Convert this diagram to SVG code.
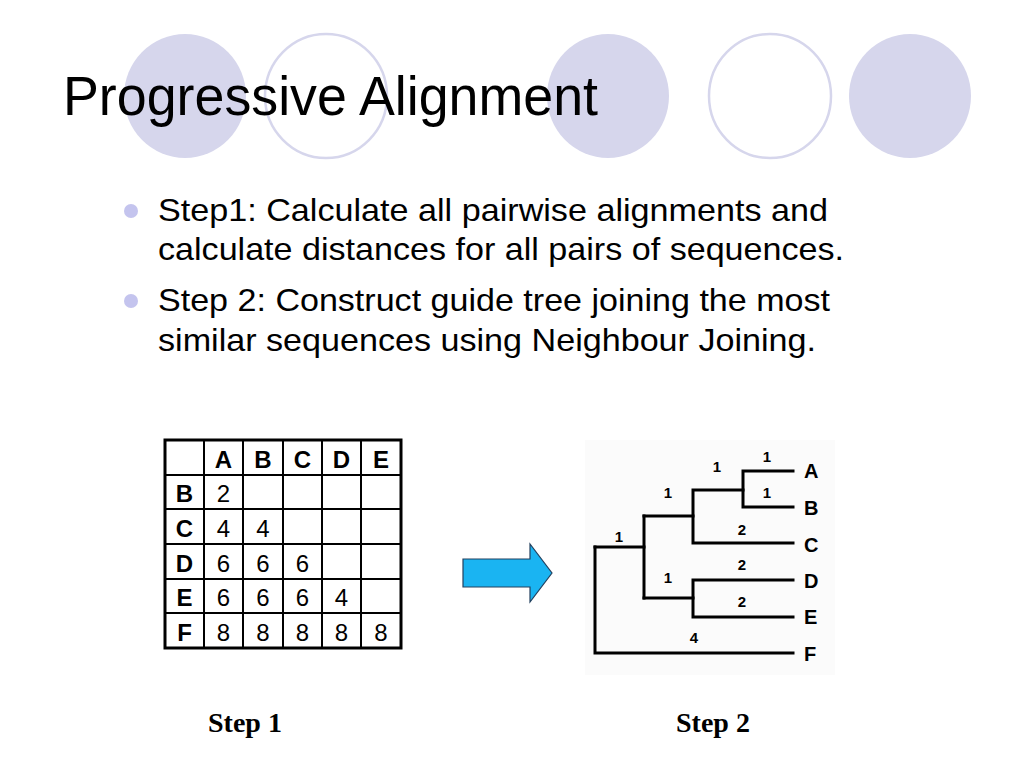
<svg xmlns="http://www.w3.org/2000/svg" width="1024" height="768" viewBox="0 0 1024 768">
<style>
.deco{fill:#d6d6ec}
.ring{fill:none;stroke:#d6d6ec;stroke-width:2.5}
.title{font-family:"Liberation Sans",Arial,sans-serif;font-size:55px;fill:#000}
.body{font-family:"Liberation Sans",Arial,sans-serif;font-size:32px;fill:#000}
.bullet{fill:#c4c4ee}
.th{font-family:"Liberation Sans",Arial,sans-serif;font-size:24px;font-weight:bold;text-anchor:middle}
.td{font-family:"Liberation Sans",Arial,sans-serif;font-size:24px;text-anchor:middle}
.grid{stroke:#000;stroke-width:2;fill:none}
.leaf{font-family:"Liberation Sans",Arial,sans-serif;font-size:20px;font-weight:bold}
.blen{font-family:"Liberation Sans",Arial,sans-serif;font-size:15px;font-weight:bold;text-anchor:middle}
.branch{stroke:#000;stroke-width:3;fill:none;stroke-linecap:square}
.step{font-family:"Liberation Serif","Times New Roman",serif;font-size:28px;font-weight:bold}
</style>
<rect width="1024" height="768" fill="#fff"/>
<g id="decor">
<ellipse class="deco" cx="185" cy="96" rx="61" ry="62"/>
<ellipse class="ring" cx="326" cy="96" rx="61" ry="62"/>
<ellipse class="deco" cx="608" cy="96" rx="61" ry="62"/>
<ellipse class="ring" cx="770" cy="96" rx="61" ry="62"/>
<ellipse class="deco" cx="910" cy="96" rx="61" ry="62"/>
</g>
<g id="title"><text class="title" x="63" y="115" textLength="535" lengthAdjust="spacingAndGlyphs">Progressive Alignment</text></g>
<g id="bullets">
<circle class="bullet" cx="131" cy="211" r="7"/>
<circle class="bullet" cx="131" cy="301" r="7"/>
<text class="body" x="158" y="221" textLength="670" lengthAdjust="spacingAndGlyphs">Step1: Calculate all pairwise alignments and</text>
<text class="body" x="158" y="260" textLength="686" lengthAdjust="spacingAndGlyphs">calculate distances for all pairs of sequences.</text>
<text class="body" x="158" y="311" textLength="672" lengthAdjust="spacingAndGlyphs">Step 2: Construct guide tree joining the most</text>
<text class="body" x="158" y="351" textLength="658" lengthAdjust="spacingAndGlyphs">similar sequences using Neighbour Joining.</text>
</g>
<g id="table">
<rect x="165" y="440" width="236" height="208" fill="#fff" stroke="#000" stroke-width="3"/>
<path class="grid" d="M204 440V648M243 440V648M283 440V648M322 440V648M361 440V648M165 475H401M165 509H401M165 544H401M165 579H401M165 613H401"/>
<text class="th" x="223.5" y="468">A</text>
<text class="th" x="263" y="468">B</text>
<text class="th" x="302.5" y="468">C</text>
<text class="th" x="341.5" y="468">D</text>
<text class="th" x="381" y="468">E</text>
<text class="th" x="184.5" y="502">B</text>
<text class="th" x="184.5" y="537">C</text>
<text class="th" x="184.5" y="572">D</text>
<text class="th" x="184.5" y="606">E</text>
<text class="th" x="184.5" y="641">F</text>
<text class="td" x="223.5" y="502">2</text>
<text class="td" x="223.5" y="537">4</text><text class="td" x="263" y="537">4</text>
<text class="td" x="223.5" y="572">6</text><text class="td" x="263" y="572">6</text><text class="td" x="302.5" y="572">6</text>
<text class="td" x="223.5" y="606">6</text><text class="td" x="263" y="606">6</text><text class="td" x="302.5" y="606">6</text><text class="td" x="341.5" y="606">4</text>
<text class="td" x="223.5" y="641">8</text><text class="td" x="263" y="641">8</text><text class="td" x="302.5" y="641">8</text><text class="td" x="341.5" y="641">8</text><text class="td" x="381" y="641">8</text>
</g>
<g id="arrow">
<path d="M463 559H530V544L552 573L530 602V587H463Z" fill="#1ab4f2" stroke="#23405e" stroke-width="1.2" stroke-linejoin="miter"/>
</g>
<g id="tree">
<rect x="585" y="440" width="250" height="235" fill="#fbfbfb"/>
<g id="connectors">
<path class="branch" d="M595 547V653H793"/>
<path class="branch" d="M595 547H644"/>
<path class="branch" d="M644 516V598"/>
<path class="branch" d="M644 516H693M644 598H693"/>
<path class="branch" d="M693 490V543H793M693 490H743"/>
<path class="branch" d="M743 471V507M743 471H793M743 507H793"/>
<path class="branch" d="M693 580V617M693 580H793M693 617H793"/>
</g>
<text class="leaf" x="804" y="478">A</text>
<text class="leaf" x="804" y="515">B</text>
<text class="leaf" x="804" y="552">C</text>
<text class="leaf" x="804" y="588">D</text>
<text class="leaf" x="804" y="624">E</text>
<text class="leaf" x="804" y="661">F</text>
<text class="blen" x="767" y="462">1</text>
<text class="blen" x="717" y="472">1</text>
<text class="blen" x="668" y="498">1</text>
<text class="blen" x="767" y="498">1</text>
<text class="blen" x="742" y="535">2</text>
<text class="blen" x="619" y="542">1</text>
<text class="blen" x="742" y="570">2</text>
<text class="blen" x="668" y="583">1</text>
<text class="blen" x="742" y="607">2</text>
<text class="blen" x="694" y="643">4</text>
</g>
<g id="steps">
<text class="step" x="208" y="732">Step 1</text>
<text class="step" x="676" y="732">Step 2</text>
</g>
</svg>
